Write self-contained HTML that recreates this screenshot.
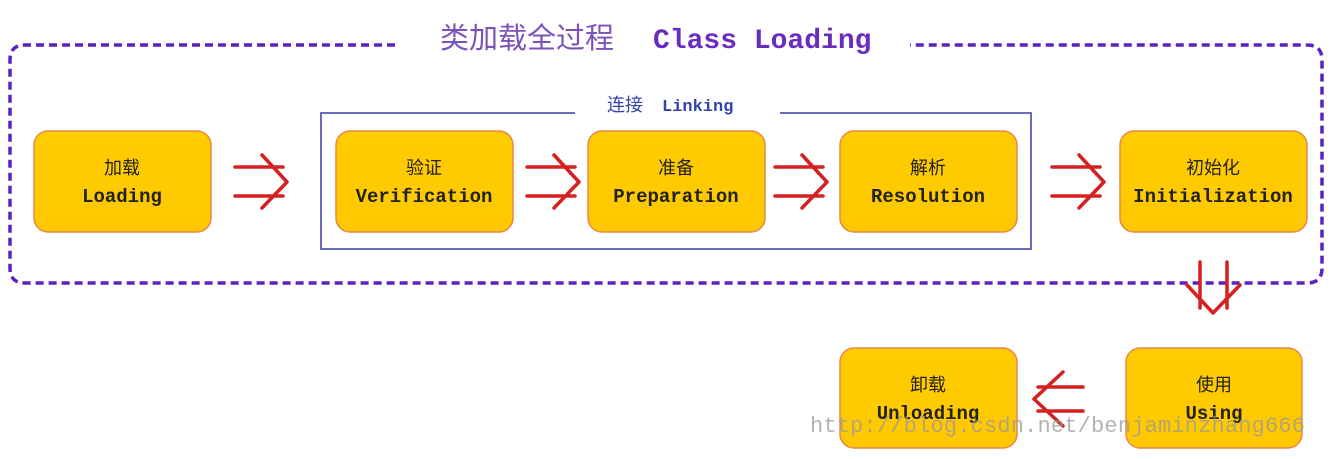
<!DOCTYPE html>
<html><head><meta charset="utf-8"><style>
html,body{margin:0;padding:0;background:#fff;width:1334px;height:459px;overflow:hidden}
svg{display:block}
.cn{font-family:"Liberation Sans","Noto Sans CJK SC",sans-serif}
.en{font-family:"Liberation Mono",monospace;font-weight:bold}
</style></head><body>
<svg width="1334" height="459" viewBox="0 0 1334 459" xmlns="http://www.w3.org/2000/svg">
<defs>
<linearGradient id="g" x1="0" y1="0" x2="0" y2="1"><stop offset="0" stop-color="#ffcc00"/><stop offset="1" stop-color="#ffc800"/></linearGradient>
</defs>
<path d="M395 45 H25 Q10 45 10 60 V268 Q10 283 25 283 H1307 Q1322 283 1322 268 V60 Q1322 45 1307 45 H910" fill="none" stroke="#5a22c0" stroke-width="3.5" stroke-dasharray="8,5"/>
<text x="440" y="48" font-size="29" fill="#7a52b8" class="cn">类加载全过程</text>
<text x="653" y="48" font-size="28" fill="#6a2cc0" class="en">Class Loading</text>
<path d="M575 113 H321 V249 H1031 V113 H780" fill="none" stroke="#3a3aa0" stroke-width="1.5"/>
<text x="607" y="111" font-size="18" fill="#3344aa" class="cn">连接</text>
<text x="662" y="111" font-size="17" fill="#3344aa" class="en">Linking</text>
<g fill="url(#g)" stroke="#e8884a" stroke-width="1.5">
<rect x="34" y="131" width="177" height="101" rx="14"/>
<rect x="336" y="131" width="177" height="101" rx="14"/>
<rect x="588" y="131" width="177" height="101" rx="14"/>
<rect x="840" y="131" width="177" height="101" rx="14"/>
<rect x="1120" y="131" width="187" height="101" rx="14"/>
<rect x="1126" y="348" width="176" height="100" rx="14"/>
<rect x="840" y="348" width="177" height="100" rx="14"/>
</g>
<g text-anchor="middle" fill="#222">
<text class="cn" font-size="18" x="122" y="174">加载</text><text class="en" font-size="19" x="122" y="202">Loading</text>
<text class="cn" font-size="18" x="424" y="174">验证</text><text class="en" font-size="19" x="424" y="202">Verification</text>
<text class="cn" font-size="18" x="676" y="174">准备</text><text class="en" font-size="19" x="676" y="202">Preparation</text>
<text class="cn" font-size="18" x="928" y="174">解析</text><text class="en" font-size="19" x="928" y="202">Resolution</text>
<text class="cn" font-size="18" x="1213" y="174">初始化</text><text class="en" font-size="19" x="1213" y="202">Initialization</text>
<text class="cn" font-size="18" x="1214" y="391">使用</text><text class="en" font-size="19" x="1214" y="419">Using</text>
<text class="cn" font-size="18" x="928" y="391">卸载</text><text class="en" font-size="19" x="928" y="419">Unloading</text>
</g>
<g fill="none" stroke="#d42020" stroke-width="3.5" stroke-linecap="round" stroke-linejoin="round">
<path d="M235 167 H283 M235 196 H283 M262 155 L287 182 L262 208"/>
<path d="M527 167 H575 M527 196 H575 M554 155 L579 182 L554 208"/>
<path d="M775 167 H823 M775 196 H823 M802 155 L827 182 L802 208"/>
<path d="M1052 167 H1100 M1052 196 H1100 M1079 155 L1104 182 L1079 208"/>
<path d="M1200 262 V308 M1227 262 V308 M1187 285 L1213 313 L1240 285"/>
<path d="M1083 387 H1038 M1083 411 H1038 M1063 372 L1034 399 L1063 426"/>
</g>
<text x="810" y="432" font-size="22" fill="#9a9a9a" fill-opacity="0.75" font-family="Liberation Mono,monospace" textLength="495">http://blog.csdn.net/benjaminzhang666</text>
</svg>
</body></html>
